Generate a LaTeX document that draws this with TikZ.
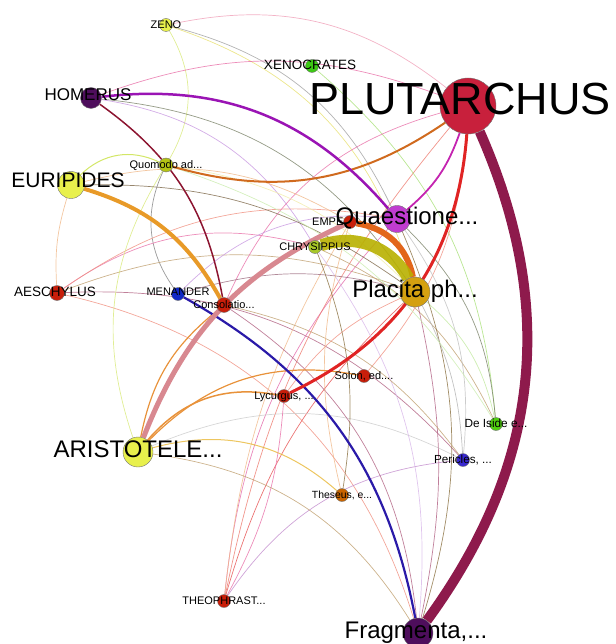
\documentclass[tikz,border=0pt]{standalone}
\usepackage{fontspec}
\setmainfont{Liberation Sans}
\usepackage{xcolor}
\usepackage{tikz}
\usetikzlibrary{positioning}
\definecolor{plutred}{HTML}{C8203C}
\definecolor{maroon}{HTML}{8E1A4C}
\definecolor{darkviolet}{HTML}{4E0E5C}
\definecolor{paleyellow}{HTML}{E8F04C}
\definecolor{olivey}{HTML}{B4C414}
\definecolor{grassgreen}{HTML}{3CC814}
\definecolor{limegreen}{HTML}{50D010}
\definecolor{orchid}{HTML}{C03CD0}
\definecolor{chrysgreen}{HTML}{A8C828}
\definecolor{goldnode}{HTML}{D4A010}
\definecolor{brick}{HTML}{C81E0A}
\definecolor{royal}{HTML}{1028C8}
\definecolor{violetblue}{HTML}{3828D0}
\definecolor{rust}{HTML}{C86400}
\definecolor{olivebar}{HTML}{B8B000}
\definecolor{tangerine}{HTML}{E2661A}
\definecolor{rose}{HTML}{D88890}
\definecolor{amber}{HTML}{E89A28}
\definecolor{purpleline}{HTML}{9A14B4}
\definecolor{wine}{HTML}{8C1430}
\definecolor{burnt}{HTML}{D06A1E}
\definecolor{redline}{HTML}{E02424}
\definecolor{indigo}{HTML}{2A1AA8}
\definecolor{magline}{HTML}{C424B0}
\definecolor{softorange}{HTML}{E8923A}
\definecolor{yelgreen}{HTML}{C8E040}
\definecolor{peach}{HTML}{F0B888}
\definecolor{pinkline}{HTML}{E870A8}
\definecolor{tan}{HTML}{C0A070}
\definecolor{salmon}{HTML}{F09080}
\definecolor{mauve}{HTML}{B06080}
\definecolor{lilac}{HTML}{C898E0}
\definecolor{mint}{HTML}{A8E078}
\definecolor{olivegray}{HTML}{7A8268}
\definecolor{greyline}{HTML}{A0A0A0}
\definecolor{lemon}{HTML}{E8E070}
\definecolor{blush}{HTML}{F0A0B8}
\definecolor{gold}{HTML}{E8B838}
\definecolor{brownline}{HTML}{8A7040}
\pgfdeclarelayer{edges}
\pgfsetlayers{edges,main}
\begin{document}
\begin{tikzpicture}[x=1pt, y=1pt, >=stealth]
\tikzstyle{au}=[circle, draw=black!55, line width=0.4pt, inner sep=0pt, minimum size=13pt]
\tikzstyle{lbig}=[anchor=base, inner sep=0pt, yshift=-5pt, font=\fontsize{24}{24}\selectfont]
\tikzstyle{lsmall}=[anchor=base, inner sep=0pt, yshift=-3.5pt, font=\fontsize{11}{11}\selectfont]
\tikzstyle{thin}=[line width=0.7pt, opacity=0.8]
\useasboundingbox (0,0) rectangle (615,-644);
% authors and works
\node[au, fill=paleyellow] (zeno) at (166,-25) {};
\node[au, fill=grassgreen] (xeno) at (312,-66) {};
\node[au, fill=plutred, minimum size=56pt] (plut) at (468,-106) {};
\node[au, fill=darkviolet, minimum size=21pt] (homer) at (91,-98) {};
\node[au, fill=olivey, minimum size=14pt] (quomodo) at (166,-165) {};
\node[au, fill=paleyellow, minimum size=27pt] (eurip) at (71,-185) {};
\node[au, fill=brick] (empe) at (350,-222) {};
\node[au, fill=orchid, minimum size=27pt] (quaest) at (397,-219) {};
\node[au, fill=chrysgreen] (chrys) at (315,-247) {};
\node[au, fill=goldnode, minimum size=30pt] (placita) at (415,-292) {};
\node[au, fill=brick, minimum size=15pt] (aesch) at (57,-293) {};
\node[au, fill=royal] (menand) at (178,-294) {};
\node[au, fill=brick, minimum size=15pt] (consol) at (224,-305) {};
\node[au, fill=brick] (solon) at (364,-376) {};
\node[au, fill=brick] (lycurg) at (284,-396) {};
\node[au, fill=limegreen] (iside) at (496,-424) {};
\node[au, fill=paleyellow, minimum size=30pt] (arist) at (138,-452) {};
\node[au, fill=violetblue] (pericl) at (463,-460) {};
\node[au, fill=rust] (theseus) at (342,-495) {};
\node[au, fill=brick] (theoph) at (224,-601) {};
\node[au, fill=darkviolet, minimum size=30pt] (fragm) at (418,-633) {};
% labels
\node[lsmall] (zeno-l) at (zeno) {ZENO};
\node[lsmall, font=\fontsize{13.5}{13.5}\selectfont] (xeno-l) at ([xshift=-2pt]xeno) {XENOCRATES};
\node[lbig, font=\fontsize{45}{45}\selectfont, yshift=-4pt] (plut-l) at ([xshift=-8pt]plut) {PLUTARCHUS};
\node[lbig, font=\fontsize{17}{17}\selectfont, yshift=2pt] (homer-l) at ([xshift=-3pt]homer) {HOMERUS};
\node[lsmall] (quomodo-l) at (quomodo) {Quomodo ad...};
\node[lbig, font=\fontsize{21}{21}\selectfont, yshift=2pt] (eurip-l) at ([xshift=-3pt]eurip) {EURIPIDES};
\node[lsmall, anchor=base west] (empe-l) at ([xshift=-38pt]empe) {EMPE};
\node[lbig] (quaest-l) at ([xshift=10pt]quaest) {Quaestione...};
\node[lsmall] (chrys-l) at (chrys) {CHRYSIPPUS};
\node[lbig] (placita-l) at (placita) {Placita ph...};
\node[lsmall, font=\fontsize{13.5}{13.5}\selectfont] (aesch-l) at ([xshift=-2pt]aesch) {AESCHYLUS};
\node[lsmall] (menand-l) at ([yshift=2pt]menand) {MENANDER};
\node[lsmall] (consol-l) at (consol) {Consolatio...};
\node[lsmall] (solon-l) at (solon) {Solon, ed....};
\node[lsmall] (lycurg-l) at (lycurg) {Lycurgus, ...};
\node[lsmall, font=\fontsize{11.8}{11.8}\selectfont] (iside-l) at (iside) {De Iside e...};
\node[lbig] (arist-l) at (arist) {ARISTOTELE...};
\node[lsmall, font=\fontsize{11.7}{11.7}\selectfont] (pericl-l) at (pericl) {Pericles, ...};
\node[lsmall, font=\fontsize{10.4}{10.4}\selectfont] (theseus-l) at (theseus) {Theseus, e...};
\node[lsmall] (theoph-l) at (theoph) {THEOPHRAST...};
\node[lbig] (fragm-l) at ([xshift=-2pt]fragm) {Fragmenta,...};
\begin{pgfonlayer}{edges}
% faint links
\draw[thin, gray] (menand) to[bend left=30] (quomodo);
\draw[thin, yelgreen, line width=1pt] (eurip) to[bend left=35] (quomodo);
\draw[thin, yelgreen!70] (zeno) to[bend left=30] (quomodo);
\draw[thin, peach] (aesch) to[bend left=10] (eurip);
\draw[thin, pinkline] (aesch) to[bend left=25] (chrys);
\draw[thin, tan] (aesch) to[bend left=20] (placita);
\draw[thin, salmon] (aesch) to[bend left=22] (quaest);
\draw[thin, salmon] (aesch) to[bend left=30] (fragm);
\draw[thin, mauve] (aesch) to[bend left=25] (pericl);
\draw[thin, lilac!80!mauve] (theoph) to[bend left=25] (pericl);
\draw[thin, redline!80] (theoph) to[bend left=15] (placita);
\draw[thin, pinkline!90!magline] (theoph) to[bend left=18] (quaest);
\draw[thin, peach] (theoph) to[bend left=12] (empe);
\draw[thin, salmon!80!redline] (theoph) to[bend left=14] (plut);
\draw[thin, tan] (arist) to[bend left=25] (fragm);
\draw[thin, gold, line width=1pt] (arist) to[bend left=28] (theseus);
\draw[thin, yelgreen!70] (arist) to[bend left=25] (quomodo);
\draw[thin, black!20] (arist) to[bend left=25] (pericl);
\draw[thin, mint] (xeno) to[bend left=22] (iside);
\draw[thin, tan] (chrys) to[bend left=20] (iside);
\draw[thin, mint!70] (placita) to[bend left=18] (iside);
\draw[thin, olivegray] (quaest) to[bend left=20] (iside);
\draw[thin, olivegray] (homer) to[bend left=25] (placita);
\draw[thin, lilac] (homer) to[bend left=25] (chrys);
\draw[thin, greyline] (zeno) to[bend left=25] (quaest);
\draw[thin, lemon] (zeno) to[bend left=28] (placita);
\draw[thin, blush] (zeno) to[bend left=25] (plut);
\draw[thin, pinkline] (consol) to[bend left=25] (plut);
\draw[thin, maroon!70] (placita) to[bend left=12] (fragm);
\draw[thin, brownline] (quaest) to[bend left=20] (fragm);
\draw[thin, lilac!70] (chrys) to[bend left=20] (fragm);
\draw[thin, mauve] (consol) to[bend left=25] (fragm);
\draw[thin, salmon] (plut) to[bend left=18] (solon);
\draw[thin, black!25] (quaest) to[bend left=20] (pericl);
\draw[thin, black!30] (placita) to[bend left=12] (pericl);
\draw[thin, black!35!tan] (eurip) to[bend left=18] (placita);
\draw[thin, peach] (eurip) to[bend left=22] (empe);
\draw[thin, lilac] (menand) to[bend left=25] (quaest);
\draw[thin, mauve!60!gray] (menand) to[bend left=15] (placita);
\draw[thin, tan] (consol) to[bend left=20] (pericl);
\draw[thin, lemon!60] (quomodo) to[bend left=18] (placita);
\draw[thin, mint!60] (quomodo) to[bend left=20] (iside);
\draw[thin, salmon] (lycurg) to[bend left=15] (placita);
\draw[thin, pinkline] (lycurg) to[bend left=12] (theoph);
\draw[thin, peach] (theseus) to[bend left=15] (empe);
\draw[thin, pinkline] (homer) to[bend left=20] (plut);
\draw[thin, brownline] (chrys) to[bend left=15] (theseus);
% strong links
\draw[softorange, line width=1.5pt] (arist) to[bend left=30] (lycurg);
\draw[softorange, line width=1.2pt] (arist) to[bend left=28] (solon);
\draw[softorange, line width=1.2pt] (arist) to[bend left=20] (consol);
\draw[magline, line width=1.8pt] (plut) to[bend left=15] (quaest);
\draw[indigo, line width=2.2pt] (menand) to[bend left=25] (fragm);
\draw[redline, line width=3pt] (plut) to[bend left=30] (lycurg);
\draw[burnt, line width=2pt] (plut) to[bend left=25] (quomodo);
\draw[wine, line width=1.5pt] (homer) to[bend left=22] (consol);
\draw[purpleline, line width=2.5pt] (homer) to[bend left=28] (quaest);
\draw[amber, line width=4pt] (eurip) to[bend left=22] (consol);
\draw[rose, line width=5pt] (arist) to[bend left=22] (empe);
\draw[tangerine, line width=6pt] (empe) to[bend left=35] (placita);
\draw[olivebar, line width=12pt, opacity=0.9] (chrys) to[bend left=40] (placita);
\draw[maroon, line width=10pt] (plut) to[bend left=30] (fragm);
\end{pgfonlayer}
\end{tikzpicture}
\end{document}
